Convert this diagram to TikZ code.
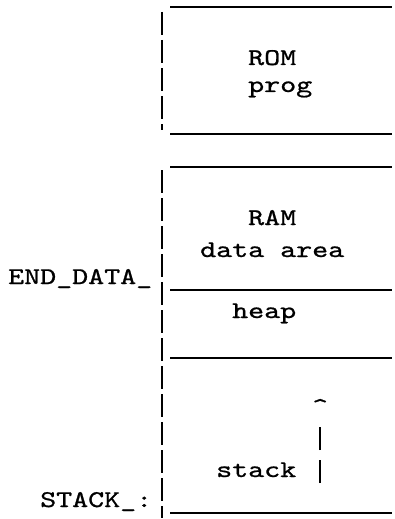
\documentclass[tikz,border=0pt]{standalone}
\usepackage{graphicx}
\usepackage{fontspec}
\usetikzlibrary{positioning}

% typewriter text, a little darker and stretched to the wide pitch of the printout
\newfontfamily\typer[FakeBold=0.8]{lmmono10-regular.otf}
\newcommand{\wtt}[1]{\scalebox{1.27}[1]{#1}}

\begin{document}
\begin{tikzpicture}[x=1pt,y=-1pt,
    txt/.style={font=\fontsize{24}{24}\selectfont\typer,inner sep=0pt,anchor=base west},
    rule/.style={line width=1.9pt},
    bar/.style={line width=1.9pt,dash pattern=on 23pt off 5pt},
    shaft/.style={line width=1.9pt,dash pattern=on 23pt off 10pt}]
\useasboundingbox (0,0) rectangle (394,519);

% ROM block
\draw[rule] (170,7) -- (392,7);
\draw[bar] (162,12) -- (162,130);
\node[txt] (rom) at (248,65) {\wtt{ROM}};
\node[txt] (prog) at (248,92) {\wtt{prog}};
\draw[rule] (170,134) -- (392,134);

% RAM block
\draw[rule] (170,167) -- (392,167);
\draw[bar] (162,170) -- (162,518);
\node[txt] (ram) at (248,225) {\wtt{RAM}};
\node[txt] (data) at (200,257) {\wtt{data area}};
\node[txt] (enddata) at (8,284) {\wtt{END\_DATA\_}};
\draw[rule] (170,290) -- (392,290);
\node[txt] (heap) at (232,318) {\wtt{heap}};
\draw[rule] (170,358) -- (392,358);

% stack growing up
\node[txt] (up) at (312,414) {\wtt{\textasciicircum}};
\node[txt] (stack) at (216,477) {\wtt{stack}};
\coordinate (s0) at (320,483);
\coordinate (s1) at (320,427);
\draw[shaft] (s0) -- (s1);
\node[txt] (stackend) at (40,507) {\wtt{STACK\_:}};
\draw[rule] (170,513) -- (392,513);
\end{tikzpicture}
\end{document}
